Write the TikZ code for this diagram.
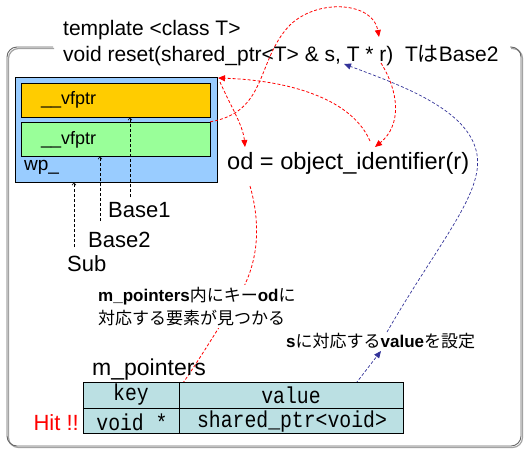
\documentclass[tikz,border=0pt]{standalone}
\usepackage{fontspec}
\setmainfont{Liberation Sans}
\newfontfamily\jp{Noto Sans CJK JP}
\newfontfamily\mono{Liberation Mono}
\usetikzlibrary{arrows.meta}
\definecolor{wpblue}{HTML}{99CCFF}
\definecolor{vforange}{HTML}{FFCC00}
\definecolor{vfgreen}{HTML}{99FF99}
\definecolor{tblcyan}{HTML}{BBE0E3}
\definecolor{arrred}{HTML}{FF0000}
\definecolor{arrblue}{HTML}{333399}
\definecolor{framegray}{HTML}{666666}
\newcommand{\tbltext}[1]{\scalebox{0.86}[1]{\mono\fontsize{23}{23}\selectfont #1}}
\tikzset{
  txt/.style={inner sep=0pt, anchor=west},
  fs/.style={font=\fontsize{#1}{#1}\selectfont},
  boxrect/.style={draw=black, line width=0.8pt},
  cell/.style={inner sep=0pt},
  redarrow/.style={draw=arrred, line width=0.8pt, dash pattern=on 3pt off 2pt, -{Triangle[length=7pt,width=6pt]}},
  bluearrow/.style={draw=arrblue, line width=0.7pt, dash pattern=on 3pt off 2pt, -{Triangle[length=7pt,width=6pt]}},
  inherit/.style={draw=black, line width=0.6pt, dash pattern=on 3pt off 2pt, -{Straight Barb[length=2.5pt,width=4pt]}},
}
\begin{document}
\begin{tikzpicture}[x=1pt,y=-1pt]
\useasboundingbox (0,0) rectangle (529,453);
\fill[white] (0,0) rectangle (529,453);
% outer frame
\draw[framegray!60, line width=1.2pt, rounded corners=10] (54,48.5) -- (8.5,48.5) -- (8.5,447.5) -- (522.5,447.5) -- (522.5,48.5) -- (511,48.5);
\draw[framegray, line width=0.9pt, rounded corners=10] (53,47) -- (7,47) -- (7,446) -- (521,446) -- (521,47) -- (510,47);
% title
\node[txt, fs=21] (t1) at (63,30) {template <class T>};
\node[txt, fs=21] (t2) at (63,56) {void reset(shared\_ptr<T> \& s, T * r)\ \ T{\jp は}Base2};
% wp_ object
\draw[boxrect, fill=wpblue] (15,77) rectangle (217,182);
\node (wp) at (116,129.5) [minimum width=202pt, minimum height=105pt, inner sep=0] {};
\draw[boxrect, fill=vforange] (21,83) rectangle (210,117);
\node (b1box) at (115.5,100) [minimum width=189pt, minimum height=34pt, inner sep=0] {};
\draw[boxrect, fill=vfgreen] (21,122) rectangle (210,156);
\node (b2box) at (115.5,139) [minimum width=189pt, minimum height=34pt, inner sep=0] {};
\node[txt, fs=18] (vf1) at (41,100) {\_\_vfptr};
\node[txt, fs=18] (vf2) at (41,140) {\_\_vfptr};
\node[txt, fs=19] (wplbl) at (24,167) {wp\_};
% class labels
\node[txt, fs=22] (base1) at (108,210) {Base1};
\node[txt, fs=22] (base2) at (88,240) {Base2};
\node[txt, fs=22] (sub) at (67,264) {Sub};
\coordinate (base1s) at (130,197);
\coordinate (base2s) at (100,221);
\coordinate (subs) at (74,247);
\draw[inherit] (base1s) -- (base1s |- b1box.south);
\draw[inherit] (base2s) -- (base2s |- b2box.south);
\draw[inherit] (subs) -- (subs |- wp.south);
% od
\node[txt, fs=23.6] (od) at (227,163) {od = object\_identifier(r)};
% red arrows
\coordinate (rtop) at (379,37);
\coordinate (rbot) at (381,63);
\coordinate (odtop) at (375,147);
\coordinate (odsrc) at (370,141);
\coordinate (wpc) at (218,78);
\coordinate (wpc2) at (220,82);
\coordinate (odleft) at (245,147);
\coordinate (odbelow) at (250,186);
\coordinate (keyhit) at (166,406);
\draw[redarrow] (b2box.north east) .. controls (268,112) and (256,60) .. (290,25) .. controls (318,-2) and (373,2) .. (rtop);
\draw[redarrow] (rbot) .. controls (399,92) and (402,125) .. (odtop);
\draw[redarrow] (odsrc) .. controls (350,95) and (280,80) .. (wpc);
\draw[redarrow] (wpc2) .. controls (230,105) and (243,125) .. (odleft);
\draw[redarrow] (odbelow) .. controls (262,228) and (258,268) .. (235,302) .. controls (214,335) and (190,375) .. (keyhit);
% blue arrows
\coordinate (valsrc) at (337,407);
\coordinate (lbl2bot) at (381,351);
\coordinate (lbl2top) at (387,332);
\coordinate (sarg) at (344,64);
\draw[bluearrow] (valsrc) .. controls (355,385) and (370,365) .. (lbl2bot);
\draw[bluearrow] (lbl2top) .. controls (440,240) and (487,190) .. (476,150) .. controls (465,108) and (400,85) .. (sarg);
% japanese labels
\node[txt, fill=white, inner sep=2pt, align=left, font=\fontsize{17}{23}\selectfont] (lbl1) at (96,306.5) {{\bfseries m\_pointers}{\jp 内にキー}{\bfseries od}{\jp に}\\{\jp 対応する要素が見つかる}};
\node[txt, fs=17] (lbl2) at (286,341) {{\bfseries s}{\jp に対応する}{\bfseries value}{\jp を設定}};
% table
\node[txt, fs=23] (mptr) at (92,370) {m\_pointers};
\draw[boxrect, fill=tblcyan] (83,382) rectangle (403,433);
\node (tbl) at (243,407.5) [minimum width=320pt, minimum height=51pt, inner sep=0] {};
\draw[line width=0.8pt] (tbl.west |- 0,408) -- (tbl.east |- 0,408);
\draw[line width=0.8pt] (179,0 |- tbl.north) -- (179,0 |- tbl.south);
\node[cell] (key) at (131,395) {\tbltext{key}};
\node[cell] (value) at (291,395) {\tbltext{value}};
\node[cell] (voidp) at (132,422) {\tbltext{void *}};
\node[cell] (sptr) at (292,422) {\tbltext{shared\_ptr<void>}};
\node[inner sep=0, anchor=east, text=arrred, font=\fontsize{22}{22}\selectfont] (hit) at (79,423) {Hit !!};
\end{tikzpicture}
\end{document}
